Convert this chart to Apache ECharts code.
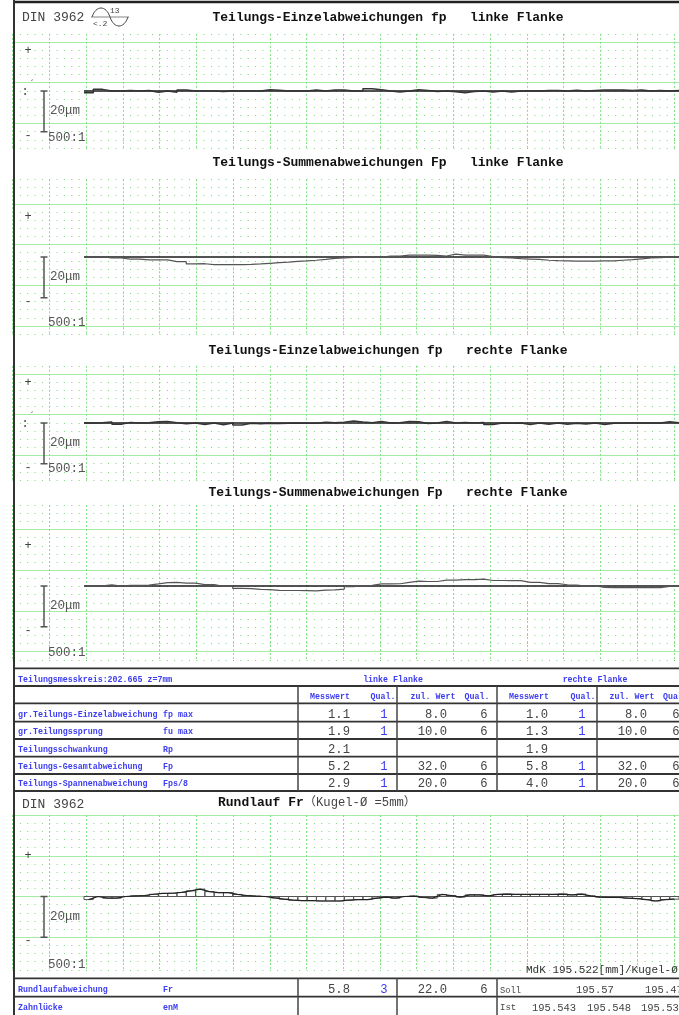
<!DOCTYPE html>
<html><head><meta charset="utf-8">
<script src="https://cdn.jsdelivr.net/npm/echarts@6/dist/echarts.min.js"></script>
<style>html,body{margin:0;padding:0;background:#fff;overflow:hidden}#c{width:679px;height:1015px}</style>
</head><body><div id="c"></div>
<script>
// ---------- data (µm per tooth) ----------
const fpLinks = [-0.8,0.8,0,0,0.3,0,0.2,-0.6,0,-0.6, 0.5,0,0,0,-0.3,0,0,0,0,0.6, 0.4,0,0,0,0.5,0,0.5,0.5,0,0, 1.1,0.6,0,-0.5,0,0.6,0.3,-0.3,0,-0.4, -0.9,-0.3,0,-0.5,0,-0.5,0,0,0,0.2, 0.3,0,0.4,0,0.3,0.5,0.5,0.5,0.2,0.5, 0,0.3,0,0.3];
const FpLinks = [0,0,-0.5,-0.5,-1,-1,-1.4,-1.4,-1.4,-2.3, -2.3,-3.4,-3.3,-3.7,-3.7,-3.7,-3.7,-3.6,-3.4,-3.1, -2.8,-2.5,-2.1,-1.9,-1.6,-1.2,-0.7,-0.5,-0.2,-0.1, -0.1,0,0.5,0.4,0.9,0.9,0.9,0.8,0.5,1.4, 0.9,0.9,0.9,0.2,-0.3,-0.4,-0.8,-1,-1.2,-1.6, -1.8,-1.9,-2,-2,-2,-1.9,-1.9,-1.6,-1.3,-0.9, -0.5,-0.3,-0.1,0];
const fpRechts = [0,0.1,0.5,-0.6,0.3,0,0.1,0.6,0.7,0.1, -0.4,0,-0.7,0,-0.9,0,-1,-0.1,-0.4,-0.1, -0.3,-0.1,0,-0.1,-0.1,0.4,0.1,0.4,1,0.5, 0.1,0.7,0,0.1,0.7,0.6,-0.2,0,0.7,0, 0.2,0,0.3,-0.7,0,-0.1,0,-0.8,0,-0.6, 0,-0.6,-0.1,-0.5,0,-0.7,-0.1,0,0,0, 0,0,0.6,0.1];
const FpRechts = [0,0.1,0.6,0,0.3,0.3,0.4,1,1.7,1.8, 1.4,1.4,0.7,0.7,-0.2,-0.2,-1.2,-1.3,-1.7,-1.8, -2.1,-2.2,-2.2,-2.3,-2.4,-2,-1.9,-1.5,-0.3,0.2, 0.3,1,1,1.1,1.8,2.4,2.2,2.2,2.9,2.9, 3.1,3.1,3.4,2.7,2.7,2.6,2.6,1.8,1.8,1.2, 1.2,0.6,0.5,0,0,-0.7,-0.8,-0.8,-0.8,-0.8, -0.8,-0.8,-0.2,-0.1];
const rundlauf = [-1.5,0,-0.8,-0.8,0,0.3,0.5,1.1,1.5,1.6, 2,2.8,3.6,2.4,1.9,1.9,1,0.5,0.2,0, -0.7,-1.3,-1.8,-2,-2,-2.2,-2.2,-2.2,-1.8,-1.5, -1.5,-0.8,-0.3,-0.8,0,0.2,-0.5,-0.8,1,0.5, -0.3,0.8,0.8,0.3,1,1.2,1,1,1,1, 1,1.2,0.8,1.2,0.3,-0.3,-0.5,-0.5,-0.8,-1, -1.5,-2.2,-1.5,-1.3];

// ---------- table content ----------
const tblLabels  = ['gr.Teilungs-Einzelabweichung','gr.Teilungssprung','Teilungsschwankung','Teilungs-Gesamtabweichung','Teilungs-Spannenabweichung'];
const tblSymbols = ['fp max','fu max','Rp','Fp','Fps/8'];
const linksMess  = ['1.1','1.9','2.1','5.2','2.9'];
const linksQual  = ['1','1','','1','1'];
const linksZul   = ['8.0','10.0','','32.0','20.0'];
const linksZulQ  = ['6','6','','6','6'];
const rechtsMess = ['1.0','1.3','1.9','5.8','4.0'];
const rechtsQual = ['1','1','','1','1'];
const rechtsZul  = ['8.0','10.0','','32.0','20.0'];
const rechtsZulQ = ['6','6','','6','6'];
const headers = ['Messwert','Qual.','zul. Wert','Qual.','Messwert','Qual.','zul. Wert','Qual.'];
const rundRow = {label:'Rundlaufabweichung', sym:'Fr', mess:'5.8', qual:'3', zul:'22.0', zulQ:'6'};
const zahnRow = {label:'Zahnlücke', sym:'enM'};
const sollVals = ['195.57','195.47'];
const istVals  = ['195.543','195.548','195.535'];

// ---------- layout ----------
const W = 679, GL = 12.5, MINOR = 8.15, DIVX = 36.75, X0 = 84;
const TEETH = fpLinks.length;
const toothW = (W - X0) / TEETH;
const pxPerUm = MINOR * 5 / 20;
const MONO = '"Liberation Mono","DejaVu Sans Mono",monospace';

const panels = [
  {top:33.8, n:14, solid:3, zero:91,   titleY:18,  title:'Teilungs-Einzelabweichungen fp   linke Flanke',  vals:fpLinks,  mode:'fp', sOff:47},
  {top:179.3,n:19, solid:1, zero:257,  titleY:163, title:'Teilungs-Summenabweichungen Fp   linke Flanke',  vals:FpLinks,  mode:'Fp', sOff:66},
  {top:365.8,n:14, solid:3, zero:423,  titleY:351, title:'Teilungs-Einzelabweichungen fp   rechte Flanke', vals:fpRechts, mode:'fp', sOff:46},
  {top:505,  n:19, solid:1, zero:586,  titleY:493, title:'Teilungs-Summenabweichungen Fp   rechte Flanke', vals:FpRechts, mode:'Fp', sOff:67},
  {top:815,  n:19, solid:4, zero:896.5,titleY:null,title:null, vals:rundlauf, mode:'Fr', sOff:68.5}
];

const grid=[], xAxis=[], yAxis=[], series=[], G=[];
const hid = {axisLine:{show:false},axisTick:{show:false},axisLabel:{show:false}};
function txt(x,y,text,font,fill,align,va){
  G.push({type:'text',x:x,y:y,z:100,silent:true,style:{text:text,font:font,fill:fill||'#333',align:align||'left',verticalAlign:va||'middle',textAlign:align||'left',textVerticalAlign:va||'middle'}});
}
function ln(x1,y1,x2,y2,c,w){
  G.push({type:'line',z:100,silent:true,shape:{x1:x1,y1:y1,x2:x2,y2:y2},style:{stroke:c||'#333',lineWidth:w||1}});
}

panels.forEach((p,k)=>{
  const h = p.n*MINOR, bottom = p.top + h;
  grid.push({left:GL, top:p.top, width:W-GL, height:h});
  xAxis.push(Object.assign({gridIndex:k,type:'value',min:0,max:(W-GL)/DIVX,interval:1,
    splitLine:{show:true,lineStyle:{color:'#86e086',type:[2,2],width:1}}},hid));
  xAxis.push({gridIndex:k,type:'value',min:-(X0-GL)/toothW,max:(W-X0)/toothW,show:false});
  yAxis.push(Object.assign({gridIndex:k,type:'value',min:0,max:p.n,interval:1,position:'left',
    splitLine:{show:true,lineStyle:{color:'#6fd86f',type:[1,DIVX/5-1],width:1}}},hid));
  const cols=[0,1,2,3,4].map(i=> i===p.solid ? '#a3eca3' : 'rgba(0,0,0,0)');
  yAxis.push(Object.assign({gridIndex:k,type:'value',min:0,max:p.n,interval:1,position:'right',
    splitLine:{show:true,lineStyle:{color:cols,type:'solid',width:1}}},hid));
  yAxis.push({gridIndex:k,type:'value',min:-(bottom-p.zero)/pxPerUm,max:(p.zero-p.top)/pxPerUm,show:false});
  const xi = 2*k+1, yi = 3*k+2;
  const n = p.vals.length;
  if (p.mode==='Fr') {
    series.push({type:'custom',xAxisIndex:xi,yAxisIndex:yi,silent:true,z:5,
      data:p.vals.map((v,i)=>[i,v]),
      renderItem:(params,api)=>{
        const i=api.value(0), v=api.value(1);
        const a=api.coord([i,0]), b=api.coord([i+1,v]);
        return {type:'rect',shape:{x:a[0],y:Math.min(a[1],b[1]),width:b[0]-a[0],height:Math.abs(b[1]-a[1])},
          style:{fill:'none',stroke:'#555',lineWidth:1}};
      }});
    series.push({type:'line',xAxisIndex:xi,yAxisIndex:yi,silent:true,symbol:'none',z:6,
      data:p.vals.map((v,i)=>[i+0.5,v]),lineStyle:{color:'#222',width:1.2}});
  } else {
    series.push({type:'line',xAxisIndex:xi,yAxisIndex:yi,silent:true,symbol:'none',z:5,
      data:[[0,0],[n,0]],lineStyle:{color:'#1a1a1a',width:p.mode==='fp'?1.3:1.5}});
    series.push({type:'line',xAxisIndex:xi,yAxisIndex:yi,silent:true,symbol:'none',step:'end',z:6,
      data:p.vals.map((v,i)=>[i,v]).concat([[n,p.vals[n-1]]]),
      lineStyle:{color:p.mode==='fp'?'#333':'#555',width:p.mode==='fp'?1.5:1.2}});
  }
  if (p.title) txt(388,p.titleY,p.title,'bold 13px '+MONO,'#111','center');
  const z=p.zero, barH=20*pxPerUm;
  txt(28,z-40.5,'+','12px '+MONO,'#444','center');
  txt(28,z+44.5,'-','12px '+MONO,'#444','center');
  if (p.mode==='fp'){ txt(25,z+1,':','12px '+MONO,'#444','center'); txt(32,z-6,'´','10px '+MONO,'#666','center'); }
  ln(44,z,44,z+barH,'#555',1.5); ln(40.5,z,47.5,z,'#555',1.5); ln(40.5,z+barH,47.5,z+barH,'#555',1.5);
  txt(50,z+20,'20μm','12.5px '+MONO,'#555');
  txt(48,z+p.sOff,'500:1','12.5px '+MONO,'#555');
});

// header top
txt(22,18,'DIN 3962','13px '+MONO,'#444');
G.push({type:'bezierCurve',z:100,silent:true,shape:{x1:92,y1:17,cpx1:96,cpy1:5,cpx2:106,cpy2:5,x2:110,y2:17},style:{stroke:'#444',fill:'none',lineWidth:1}});
G.push({type:'bezierCurve',z:100,silent:true,shape:{x1:110,y1:17,cpx1:114,cpy1:29,cpx2:124,cpy2:29,x2:128,y2:17},style:{stroke:'#444',fill:'none',lineWidth:1}});
ln(91,17,129,17,'#666',0.8);
txt(110,11,'13','8px '+MONO,'#444');
txt(93,24,'<.2','8px '+MONO,'#444');

// frame
ln(13,2,679,2,'#222',2.5);
ln(14,0,14,1015,'#333',2);

// ---------- table ----------
const blueF = 'bold 8.3px '+MONO, BLUE='#3c3cf0';
const valF = '12.2px '+MONO, VALC='#444';
[668.3,686,703.3,721.7,739,756.7,774,791].forEach(y=>ln(14,y,679,y,'#333',1.8));
[298,397,497,597].forEach(x=>ln(x,686,x,791,'#444',1.5));
txt(18,680,'Teilungsmesskreis:202.665 z=7mm',blueF,BLUE);
txt(393,680,'linke Flanke',blueF,BLUE,'center');
txt(595,680,'rechte Flanke',blueF,BLUE,'center');
const hdrX=[330,383,433,477,529,583,632,663], hdrA=['center','center','center','center','center','center','center','left'];
headers.forEach((h,i)=>txt(hdrX[i],697,h,blueF,BLUE,hdrA[i]));
const rowY=[715,732,749.5,767,784];
tblLabels.forEach((l,i)=>{
  const y=rowY[i];
  txt(18,y,l,blueF,BLUE); txt(163,y,tblSymbols[i],blueF,BLUE);
  txt(350,y,linksMess[i],valF,VALC,'right');
  txt(384,y,linksQual[i],valF,BLUE,'center');
  txt(447,y,linksZul[i],valF,VALC,'right');
  txt(484,y,linksZulQ[i],valF,VALC,'center');
  txt(548,y,rechtsMess[i],valF,VALC,'right');
  txt(582,y,rechtsQual[i],valF,BLUE,'center');
  txt(647,y,rechtsZul[i],valF,VALC,'right');
  txt(676,y,rechtsZulQ[i],valF,VALC,'center');
});

// ---------- bottom panel texts ----------
txt(22,805,'DIN 3962','13px '+MONO,'#444');
G.push({type:'text',x:218,y:803,z:100,silent:true,style:{text:'{b|Rundlauf Fr}{n|（Kugel-Ø =5mm）}',verticalAlign:'middle',textVerticalAlign:'middle',
  rich:{b:{font:'bold 13px '+MONO,fill:'#111'},n:{font:'12.2px '+MONO+',"Noto Sans CJK JP"',fill:'#444'}}}});
txt(526,970,'MdK 195.522[mm]/Kugel-Ø','11px '+MONO,'#333');
[978.3,996.7].forEach(y=>ln(14,y,679,y,'#333',1.8));
[298,397,497].forEach(x=>ln(x,978,x,1015,'#444',1.5));
txt(18,990,rundRow.label,blueF,BLUE); txt(163,990,rundRow.sym,blueF,BLUE);
txt(350,990,rundRow.mess,valF,VALC,'right');
txt(384,990,rundRow.qual,valF,BLUE,'center');
txt(447,990,rundRow.zul,valF,VALC,'right');
txt(484,990,rundRow.zulQ,valF,VALC,'center');
txt(18,1008,zahnRow.label,blueF,BLUE); txt(163,1008,zahnRow.sym,blueF,BLUE);
txt(500,991,'Soll','8.7px '+MONO,'#444');
txt(500,1008,'Ist','9px '+MONO,'#444');
txt(576,990,sollVals[0],'10.5px '+MONO,'#444');
txt(645,990,sollVals[1],'10.5px '+MONO,'#444');
txt(532,1008,istVals[0],'10.5px '+MONO,'#444');
txt(587,1008,istVals[1],'10.5px '+MONO,'#444');
txt(641,1008,istVals[2],'10.5px '+MONO,'#444');

const chart = echarts.init(document.getElementById('c'),null,{renderer:'canvas'});
chart.setOption({animation:false,backgroundColor:'#fff',grid:grid,xAxis:xAxis,yAxis:yAxis,series:series,graphic:{elements:G}});
</script></body></html>
